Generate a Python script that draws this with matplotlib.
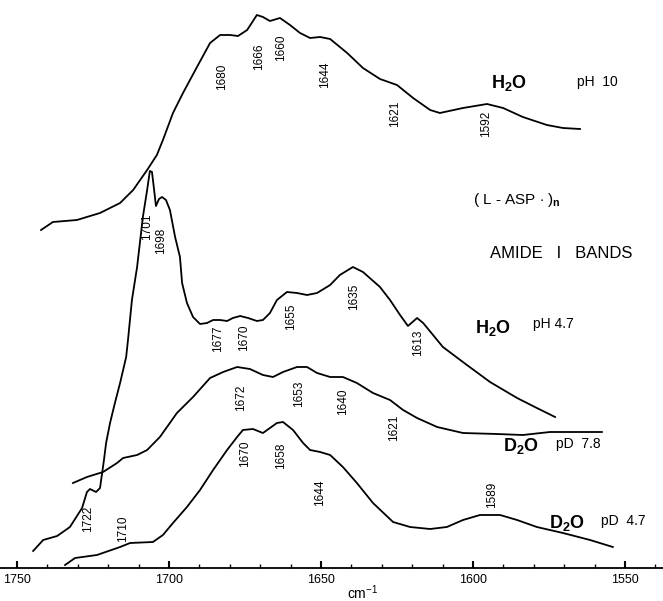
import matplotlib
matplotlib.use("Agg")
import matplotlib.pyplot as plt
from matplotlib.ticker import MultipleLocator

plt.rcParams["font.family"] = ["Liberation Sans", "DejaVu Sans"]
plt.rcParams["mathtext.fontset"] = "custom"
plt.rcParams["mathtext.rm"] = "Liberation Sans"
plt.rcParams["mathtext.bf"] = "Liberation Sans:bold"

# (L-Asp)n amide I spectra (wavenumber cm-1, arbitrary absorbance)
wn_h2o_ph10 = [1742.1, 1738.2, 1730.3, 1722.7, 1716.1, 1711.8, 1707.2, 1704.0, 1702.0, 1698.7,
               1695.4, 1690.8, 1686.5, 1683.2, 1679.9, 1677.3, 1674.3, 1671.1, 1669.1, 1666.8,
               1663.5, 1660.2, 1656.9, 1653.6, 1650.3, 1647.0, 1641.4, 1636.2, 1630.6, 1625.0,
               1619.7, 1614.1, 1610.9, 1603.3, 1595.4, 1590.1, 1583.6, 1575.7, 1570.4, 1564.8]
ab_h2o_ph10 = [338, 346, 348, 355, 365, 378, 398, 413, 428, 455,
               475, 501, 525, 533, 533, 532, 538, 553, 551, 547,
               550, 543, 535, 530, 531, 529, 515, 500, 489, 483,
               470, 458, 455, 460, 464, 460, 451, 443, 440, 439]

wn_h2o_ph47 = [1744.7, 1741.4, 1736.8, 1732.6, 1728.6, 1727.0, 1726.0, 1724.0, 1722.7, 1722.0,
               1721.4, 1720.7, 1719.4, 1717.8, 1716.1, 1714.1, 1713.5, 1712.2, 1710.5, 1708.6,
               1707.2, 1706.3, 1705.6, 1704.9, 1704.3, 1703.3, 1702.3, 1701.0, 1699.7, 1698.0,
               1696.4, 1695.7, 1694.1, 1692.1, 1689.8, 1687.5, 1685.5, 1683.2, 1680.9, 1679.0,
               1676.6, 1674.0, 1671.1, 1669.1, 1666.8, 1664.5, 1661.2, 1657.9, 1654.6, 1651.3,
               1647.0, 1643.8, 1639.5, 1636.2, 1630.6, 1627.3, 1624.0, 1621.4, 1618.4, 1616.4,
               1609.9, 1602.0, 1594.4, 1585.5, 1579.0, 1573.0]
ab_h2o_ph47 = [17, 28, 32, 41, 60, 76, 79, 76, 80, 95,
               108, 125, 145, 165, 185, 211, 228, 268, 301, 351,
               378, 397, 396, 378, 362, 369, 371, 368, 358, 331,
               311, 285, 265, 251, 244, 245, 248, 248, 247, 250,
               252, 250, 247, 248, 255, 268, 276, 275, 273, 275,
               283, 293, 301, 296, 281, 268, 253, 242, 250, 245,
               221, 203, 186, 170, 160, 151]

wn_d2o_pd78 = [1731.6, 1727.0, 1721.7, 1717.1, 1715.1, 1710.5, 1707.2, 1703.0, 1697.4, 1692.1,
               1686.5, 1682.2, 1677.6, 1673.4, 1669.1, 1665.8, 1662.5, 1657.9, 1654.6, 1651.3,
               1647.0, 1642.8, 1638.2, 1632.9, 1627.3, 1623.0, 1618.4, 1611.8, 1603.3, 1592.1,
               1583.6, 1574.7, 1565.8, 1557.6]
ab_d2o_pd78 = [85, 91, 96, 105, 110, 113, 118, 131, 155, 171,
               190, 196, 201, 199, 193, 191, 196, 201, 201, 195,
               191, 191, 185, 175, 168, 158, 150, 141, 135, 134,
               133, 136, 136, 136]

wn_d2o_pd47 = [1734.2, 1730.9, 1723.7, 1716.1, 1712.8, 1705.3, 1702.0, 1698.7, 1694.1, 1689.8,
               1685.5, 1680.9, 1677.6, 1675.7, 1672.4, 1669.1, 1666.8, 1664.5, 1662.5, 1659.2,
               1655.9, 1653.6, 1650.3, 1647.0, 1642.8, 1638.2, 1632.9, 1626.3, 1620.7, 1614.1,
               1608.6, 1603.3, 1597.7, 1591.1, 1585.5, 1579.0, 1570.4, 1561.5, 1554.0]
ab_d2o_pd47 = [3, 10, 13, 21, 25, 26, 33, 45, 61, 78,
               98, 118, 131, 138, 139, 135, 140, 145, 146, 138,
               125, 118, 116, 113, 101, 85, 65, 46, 41, 39,
               41, 48, 53, 53, 48, 41, 35, 28, 21]

# band labels: (text, wavenumber position, height)
band_labels = [
    ("1680", 1682.6, 491), ("1666", 1670.4, 511), ("1660", 1663.2, 520),
    ("1644", 1648.7, 493), ("1621", 1625.7, 454), ("1592", 1595.7, 444),
    ("1701", 1707.2, 341), ("1698", 1702.6, 327), ("1677", 1683.9, 229),
    ("1670", 1675.3, 230), ("1655", 1659.9, 251), ("1635", 1639.1, 271),
    ("1613", 1618.1, 225), ("1722", 1726.6, 49),
    ("1672", 1676.3, 170), ("1653", 1657.2, 174), ("1640", 1642.8, 166),
    ("1621", 1626.0, 140),
    ("1670", 1675.0, 114), ("1658", 1663.2, 112), ("1644", 1650.3, 75),
    ("1710", 1715.1, 39), ("1589", 1593.8, 73),
]

W, H = 663, 601
fig = plt.figure(figsize=(W / 100, H / 100), dpi=100)
ax = fig.add_axes([0, (H - 568) / H, 1, 568 / H])

for wn, ab in [(wn_h2o_ph10, ab_h2o_ph10), (wn_h2o_ph47, ab_h2o_ph47),
               (wn_d2o_pd78, ab_d2o_pd78), (wn_d2o_pd47, ab_d2o_pd47)]:
    ax.plot(wn, ab, color="black", lw=1.3, solid_joinstyle="round")

for txt, x, y in band_labels:
    ax.text(x, y, txt, rotation=90, ha="center", va="center", fontsize=8.5)

solvent = dict(fontsize=13, ha="center", va="center")
cond = dict(fontsize=10, ha="center", va="center")
ax.text(1588.2, 485, r"$\mathbf{H_2O}$", **solvent)
ax.text(1559.2, 486, "pH  10", **cond)
ax.text(1593.4, 240, r"$\mathbf{H_2O}$", **solvent)
ax.text(1573.4, 244, "pH 4.7", **cond)
ax.text(1584.2, 122, r"$\mathbf{D_2O}$", **solvent)
ax.text(1565.5, 124, "pD  7.8", **cond)
ax.text(1569.1, 45, r"$\mathbf{D_2O}$", **solvent)
ax.text(1550.7, 47, "pD  4.7", **cond)
ax.text(1585.5, 368, r"( L - ASP $\cdot$ )$_\mathbf{n}$", fontsize=11, ha="center", va="center")
ax.text(1571.1, 315, "AMIDE   I   BANDS", fontsize=12, ha="center", va="center")

ax.set_xlim(1755.6, 1537.5)
ax.set_ylim(0, 568)
for side in ("left", "right", "top"):
    ax.spines[side].set_visible(False)
ax.spines["bottom"].set_linewidth(1.3)
ax.set_yticks([])
ax.xaxis.set_major_locator(MultipleLocator(50))
ax.xaxis.set_minor_locator(MultipleLocator(10))
ax.tick_params(axis="x", which="major", direction="in", length=5, width=1.5,
               labelsize=9, pad=4)
ax.tick_params(axis="x", which="minor", direction="in", length=3, width=1.0)
ax.patch.set_alpha(0)

fig.text(363 / W, 1 - 593 / H, "cm$^{-1}$", fontsize=10, ha="center", va="center")

fig.savefig("out.png", dpi=100)
